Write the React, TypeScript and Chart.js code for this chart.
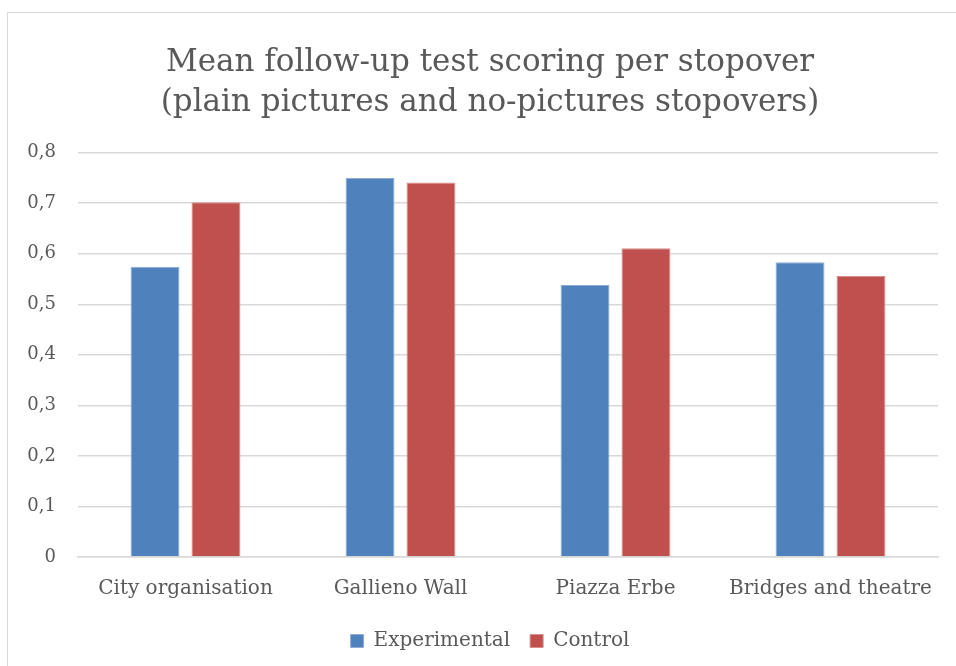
import React, { useEffect, useRef } from "react";
import { Chart, registerables } from "chart.js";

Chart.register(...registerables);

const categories = ["City organisation", "Gallieno Wall", "Piazza Erbe", "Bridges and theatre"];
const experimental = [0.574, 0.75, 0.538, 0.583];
const control = [0.702, 0.741, 0.611, 0.556];
const yTickLabels = ["0", "0,1", "0,2", "0,3", "0,4", "0,5", "0,6", "0,7", "0,8"];
const titleLines = ["Mean follow-up test scoring per stopover", "(plain pictures and no-pictures stopovers)"];
const seriesNames = ["Experimental", "Control"];

const FONT = "'DejaVu Serif', serif";
const TEXT = "#595959";
const GRID = "#d9d9d9";

export default function App() {
  const ref = useRef<HTMLCanvasElement | null>(null);

  useEffect(() => {
    document.body.style.margin = "0";
    const canvas = ref.current;
    if (!canvas) return;
    const chart = new Chart(canvas, {
      type: "bar",
      data: {
        labels: categories,
        datasets: [
          {
            label: seriesNames[0],
            data: experimental,
            backgroundColor: "#4F81BD",
            borderColor: "#8fadd6",
            borderWidth: 1,
            categoryPercentage: 0.567,
            barPercentage: 0.803,
          },
          {
            label: seriesNames[1],
            data: control,
            backgroundColor: "#C0504D",
            borderColor: "#d98e8c",
            borderWidth: 1,
            categoryPercentage: 0.567,
            barPercentage: 0.803,
          },
        ],
      },
      options: {
        animation: false,
        responsive: false,
        maintainAspectRatio: false,
        layout: { padding: { left: 8, right: 18, top: 0, bottom: 5 } },
        plugins: {
          title: {
            display: true,
            text: titleLines,
            color: TEXT,
            font: { family: FONT, size: 31, weight: "normal", lineHeight: 1.3 },
            padding: { top: 43, bottom: 29 },
          },
          legend: {
            display: true,
            position: "bottom",
            labels: {
              color: TEXT,
              font: { family: FONT, size: 20 },
              boxWidth: 13,
              boxHeight: 13,
              padding: 20,
            },
          },
          tooltip: { enabled: false },
        },
        scales: {
          x: {
            afterFit: (scale: any) => {
              scale.height = 54;
            },
            grid: { display: false, drawTicks: false },
            border: { display: true, color: GRID, width: 1.5 },
            ticks: { color: TEXT, font: { family: FONT, size: 20 }, padding: 20, maxRotation: 0 },
          },
          y: {
            min: 0,
            max: 0.8,
            afterFit: (scale: any) => {
              scale.width = 70;
            },
            grid: { color: GRID, lineWidth: 1.5, drawTicks: false },
            border: { display: false },
            ticks: {
              stepSize: 0.1,
              color: TEXT,
              padding: 22,
              font: { family: FONT, size: 18 },
              callback: (_v: any, i: number) => yTickLabels[i],
            },
          },
          y2: {
            position: "right",
            min: 0,
            max: 0.8,
            afterFit: (scale: any) => {
              scale.width = 34;
            },
            grid: { display: false, drawTicks: false },
            border: { display: false },
            ticks: { display: false },
          },
        },
      },
    });
    return () => chart.destroy();
  }, []);

  return (
    <div style={{ position: "relative", width: 956, height: 666, overflow: "hidden", background: "#fff" }}>
      <div
        style={{
          position: "absolute",
          left: 7,
          top: 12,
          width: 980,
          height: 680,
          border: "1.5px solid #d9d9d9",
          boxSizing: "border-box",
        }}
      />
      <canvas ref={ref} width={990} height={666} style={{ position: "absolute", left: 0, top: 0 }} />
    </div>
  );
}
